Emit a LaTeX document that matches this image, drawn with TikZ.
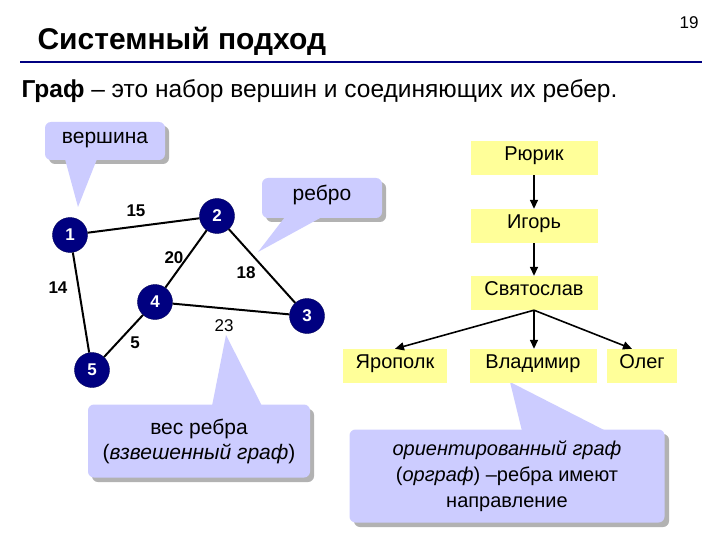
\documentclass[tikz,border=0pt]{standalone}
\usepackage{fontspec}
\setmainfont{Liberation Sans}
\usetikzlibrary{arrows.meta}
\definecolor{navy}{RGB}{0,0,128}
\definecolor{lav}{RGB}{204,204,255}
\definecolor{yel}{RGB}{255,255,153}
\tikzset{
  vert/.style={circle,fill=navy,draw=navy!70!black,minimum size=35pt,inner sep=0pt,text=white,font=\fontsize{17}{17}\selectfont\bfseries},
  edge/.style={line width=2pt,black},
  wt/.style={font=\fontsize{17}{17}\selectfont\bfseries},
  call/.style={fill=lav,rounded corners=6pt,align=center,font=\fontsize{21}{25}\selectfont,inner sep=0pt},
  tbox/.style={fill=yel,minimum height=34pt,inner sep=0pt,text height=0.72em,text depth=0.22em,font=\fontsize{20}{20}\selectfont},
  arr/.style={-{Triangle[length=9pt,width=8pt]},line width=1.6pt}
}
\begin{document}
\begin{tikzpicture}[x=1pt,y=-1pt]
\useasboundingbox (0,0) rectangle (720,540);
\fill[white] (0,0) rectangle (720,540);
\node[anchor=west,font=\fontsize{30}{30}\selectfont\bfseries] (title) at (34,41) {Системный подход};
\node[font=\fontsize{17}{17}\selectfont] (pg) at (689,23) {19};
\coordinate (l1) at (20,62); \coordinate (l2) at (702,62);
\draw[navy,line width=2.5pt] (l1) -- (l2);
\node[anchor=west,font=\fontsize{24.5}{24.5}\selectfont] (def) at (18,91) {\textbf{Граф} – это набор вершин и соединяющих их ребер.};
% callout shadows
\fill[gray!60,rounded corners=6pt] (49,126) rectangle (169,164);
\fill[gray!60,rounded corners=6pt] (266,182) rectangle (386,222);
\fill[gray!60,rounded corners=6pt] (92,409) rectangle (314,482);
\fill[gray!60,rounded corners=6pt] (354,434) rectangle (669,527);
% callouts
\node[call,minimum width=120pt,minimum height=38pt,text height=0.72em,text depth=0.22em] (cv) at (105,141) {вершина};
\coordinate (tv) at (78,207);
\fill[lav] (65,159) -- (tv) -- (97,159) -- cycle;
\node[call,minimum width=120pt,minimum height=40pt,text height=0.72em,text depth=0.22em] (ce) at (322,198) {ребро};
\coordinate (te) at (258,252);
\fill[lav] (285,217) -- (te) -- (322,217) -- cycle;
\node[call,minimum width=222pt,minimum height=73pt] (cw) at (199,441) {вес ребра\\(\textit{взвешенный граф})};
\coordinate (tw) at (226,335);
\fill[lav] (212,406) -- (tw) -- (262,406) -- cycle;
\node[call,minimum width=315pt,minimum height=93pt,font=\fontsize{20}{26}\selectfont] (co) at (507,476) {\textit{ориентированный граф}\\(\textit{орграф}) –ребра имеют\\направление};
\coordinate (to) at (510,382);
\fill[lav] (522,431) -- (to) -- (606,431) -- cycle;
% graph
\node[vert] (n1) at (70,235) {1};
\node[vert] (n2) at (217,216) {2};
\node[vert] (n3) at (307,316) {3};
\node[vert] (n4) at (155,302) {4};
\node[vert] (n5) at (92,370) {5};
\draw[edge] (n1) -- (n2);
\draw[edge] (n2) -- (n4);
\draw[edge] (n2) -- (n3);
\draw[edge] (n4) -- (n3);
\draw[edge] (n1) -- (n5);
\draw[edge] (n4) -- (n5);
\node[wt] (w15) at (136,211) {15};
\node[wt] (w20) at (174,258) {20};
\node[wt] (w18) at (246,273) {18};
\node[wt] (w14) at (58,288) {14};
\node[font=\fontsize{17}{17}\selectfont] (w23) at (224,326) {23};
\node[wt] (w5) at (135,343) {5};
% tree
\node[tbox,minimum width=127pt] (r) at (534,158) {Рюрик};
\node[tbox,minimum width=127pt] (i) at (534,226) {Игорь};
\node[tbox,minimum width=127pt] (s) at (534,293) {Святослав};
\node[tbox,minimum width=104pt] (ya) at (395,366) {Ярополк};
\node[tbox,minimum width=127pt] (vl) at (533,366) {Владимир};
\node[tbox,minimum width=70pt] (ol) at (642,366) {Олег};
\draw[arr] (r) -- (i);
\draw[arr] (i) -- (s);
\draw[arr] (s.south) -- (ya.north);
\draw[arr] (s.south) -- (s.south|-vl.north);
\draw[arr] (s.south) -- ([xshift=-10pt]ol.north);
\end{tikzpicture}
\end{document}
